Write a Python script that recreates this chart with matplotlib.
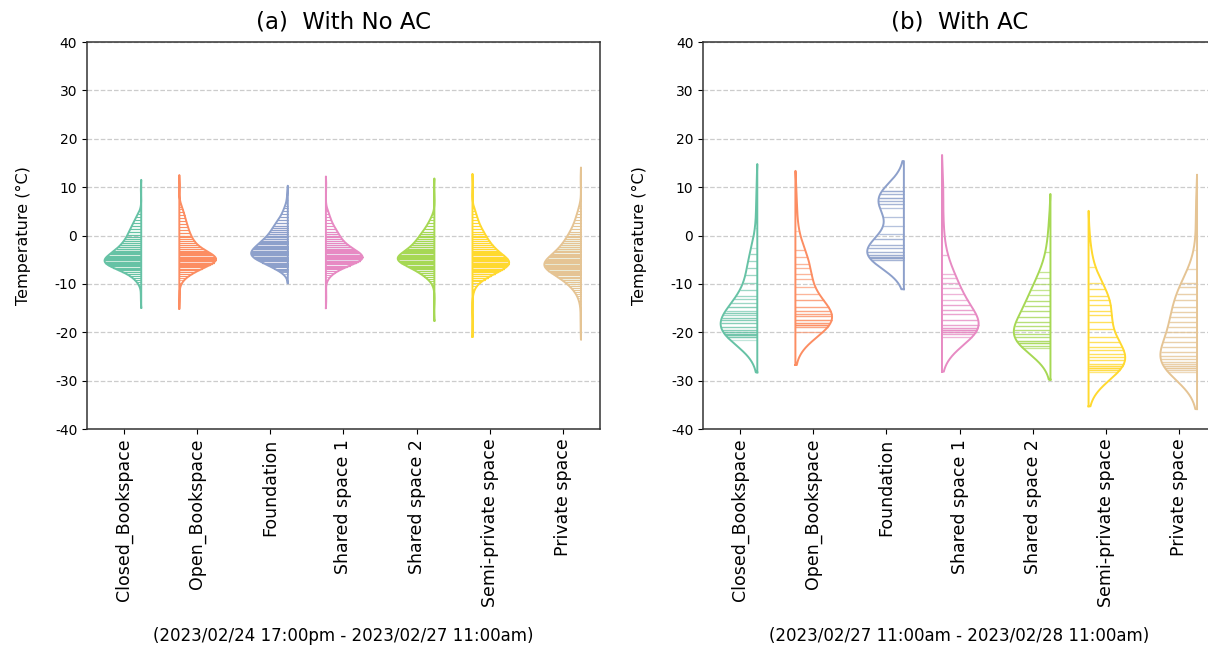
import numpy as np
import matplotlib
matplotlib.use("Agg")
import matplotlib.pyplot as plt
from matplotlib.collections import LineCollection

plt.rcParams["font.family"] = "DejaVu Sans"
plt.rcParams["axes.unicode_minus"] = False

categories = ["Closed_Bookspace", "Open_Bookspace", "Foundation", "Shared space 1",
              "Shared space 2", "Semi-private space", "Private space"]
palette = ["#66c2a5", "#fc8d62", "#8da0cb", "#e78ac3", "#a6d854", "#ffd92f", "#e5c494"]

# ---- (a) With No AC : logged temperature (degC) and number of readings at that value
noac_closed_t = [9.4, 4.4, 3.8, 3.2, 2.6, 2.0, 1.4, 0.8, 0.2, -0.3, -0.7, -1.1, -1.5, -1.9, -2.3,
                 -2.7, -3.1, -3.4, -3.65, -3.9, -4.15, -4.4, -4.65, -4.9, -5.15, -5.4, -5.65,
                 -5.9, -6.15, -6.4, -6.65, -6.9, -7.15, -7.5, -7.9, -8.3, -8.7, -9.1, -9.6,
                 -10.1, -12.8]
noac_closed_n = [1, 3, 3, 4, 5, 6, 7, 8, 8, 6, 7, 7, 8, 8, 9,
                 10, 11, 7, 8, 8, 9, 9, 10, 11, 11, 12, 12,
                 11, 10, 9, 7, 7, 6, 7, 5, 4, 3, 3, 2,
                 1, 1]

noac_open_t = [10.2, 6.0, 5.4, 4.8, 4.2, 3.6, 3.0, 2.4, 1.8, 1.2, 0.6, 0.0, -0.4, -0.8, -1.2,
               -1.6, -2.0, -2.4, -2.8, -3.1, -3.35, -3.6, -3.85, -4.1, -4.35, -4.6, -4.85,
               -5.1, -5.35, -5.6, -5.85, -6.1, -6.35, -6.6, -6.85, -7.2, -7.6, -8.0, -8.4,
               -8.8, -9.2, -9.8, -12.8]
noac_open_n = [1, 2, 2, 3, 3, 3, 4, 5, 5, 5, 6, 6, 5, 5, 5,
               6, 7, 7, 8, 6, 6, 7, 8, 9, 10, 11, 12,
               12, 11, 10, 8, 7, 7, 6, 5, 7, 6, 4, 3,
               2, 1, 1, 1]

noac_found_t = [8.3, 7.4, 6.2, 5.6, 5.0, 4.4, 3.8, 3.2, 2.6, 2.0, 1.6, 1.2, 0.8, 0.4, 0.0,
                -0.4, -0.8, -1.1, -1.35, -1.6, -1.85, -2.1, -2.35, -2.6, -2.85, -3.1, -3.35,
                -3.6, -3.85, -4.1, -4.35, -4.6, -4.85, -5.1, -5.35, -5.6, -5.85, -6.1, -6.35,
                -6.6, -6.85, -7.1, -7.35, -7.6, -7.85]
noac_found_n = [1, 1, 2, 3, 3, 4, 5, 7, 8, 9, 7, 7, 8, 8, 9,
                10, 11, 7, 8, 8, 9, 9, 9, 10, 10, 11, 11,
                12, 12, 12, 11, 11, 10, 9, 8, 7, 7, 6, 5,
                4, 4, 3, 2, 2, 1]

noac_shared1_t = [10.2, 5.0, 4.4, 3.8, 3.2, 2.6, 2.0, 1.4, 0.8, 0.4, 0.0, -0.4, -0.8, -1.2,
                  -1.6, -2.0, -2.4, -2.7, -2.95, -3.2, -3.45, -3.7, -3.95, -4.2, -4.45, -4.7,
                  -4.95, -5.2, -5.45, -5.7, -5.95, -6.2, -6.45, -6.7, -7.0, -7.4, -7.8, -8.2,
                  -8.6, -9.1, -13.0]
noac_shared1_n = [1, 2, 2, 3, 3, 4, 5, 6, 7, 5, 6, 6, 7, 7,
                  8, 9, 10, 7, 8, 8, 9, 9, 10, 11, 12, 12,
                  12, 11, 10, 8, 7, 6, 5, 4, 6, 4, 3, 2,
                  1, 1, 1]

noac_shared2_t = [9.8, 4.4, 3.8, 3.2, 2.6, 2.0, 1.4, 0.8, 0.4, 0.0, -0.4, -0.8, -1.2, -1.6,
                  -2.0, -2.4, -2.7, -2.95, -3.2, -3.45, -3.7, -3.95, -4.2, -4.45, -4.7, -4.95,
                  -5.2, -5.45, -5.7, -5.95, -6.2, -6.45, -6.7, -6.95, -7.3, -7.7, -8.1, -8.5,
                  -8.9, -9.3, -9.8, -10.3, -15.6]
noac_shared2_n = [1, 1, 2, 3, 4, 5, 6, 7, 6, 6, 7, 8, 8, 9,
                  10, 10, 7, 7, 8, 9, 9, 10, 11, 11, 12, 12,
                  12, 11, 10, 9, 8, 7, 6, 6, 8, 7, 5, 4,
                  3, 2, 1, 1, 1]

noac_semi_t = [10.5, 5.6, 5.0, 4.4, 3.8, 3.2, 2.6, 2.0, 1.4, 0.8, 0.4, 0.0, -0.4, -0.8, -1.2,
               -1.6, -2.0, -2.4, -2.8, -3.1, -3.35, -3.6, -3.85, -4.1, -4.35, -4.6, -4.85,
               -5.1, -5.35, -5.6, -5.85, -6.1, -6.35, -6.6, -6.85, -7.1, -7.35, -7.6, -7.9,
               -8.3, -8.7, -9.1, -9.5, -9.9, -10.4, -11.0, -11.7, -18.7]
noac_semi_n = [1, 1, 2, 3, 3, 4, 4, 5, 6, 7, 5, 6, 6, 7, 7,
               8, 9, 9, 10, 7, 7, 7, 8, 8, 9, 10, 10,
               11, 12, 12, 12, 12, 11, 10, 9, 8, 7, 7, 10,
               8, 6, 5, 3, 2, 2, 1, 1, 1]

noac_private_t = [11.6, 6.2, 5.6, 5.0, 4.4, 3.8, 3.2, 2.6, 2.0, 1.4, 0.8, 0.4, 0.0, -0.4, -0.8,
                  -1.2, -1.6, -2.0, -2.4, -2.8, -3.2, -3.5, -3.75, -4.0, -4.25, -4.5, -4.75,
                  -5.0, -5.25, -5.5, -5.75, -6.0, -6.25, -6.5, -6.75, -7.0, -7.25, -7.5, -7.75,
                  -8.0, -8.25, -8.5, -8.8, -9.2, -9.6, -10.0, -10.4, -10.8, -11.2, -11.6, -12.0,
                  -12.5, -13.0, -13.6, -14.2, -16.5, -19.0]
noac_private_n = [1, 1, 2, 2, 3, 3, 4, 5, 5, 6, 7, 5, 6, 6, 7,
                  8, 8, 9, 9, 10, 11, 7, 8, 8, 9, 9, 10,
                  10, 11, 11, 11, 12, 12, 12, 12, 11, 10, 9, 8,
                  8, 7, 6, 9, 8, 7, 6, 5, 4, 3, 3, 2,
                  2, 1, 1, 1, 1, 1]

# ---- (b) With AC
ac_closed_t = [8.0, 1.5, -2.5, -3.9, -5.2, -6.8, -8.2, -9.8, -11.3, -12.5, -13.2, -14.0, -14.8,
               -15.5, -16.0, -16.5, -17.0, -17.5, -18.1, -18.9, -19.5, -19.9, -20.3, -20.6,
               -20.9, -21.5]
ac_closed_n = [1, 1, 1, 2, 2, 2, 2, 2, 2, 2, 2, 2, 3,
               2, 3, 2, 3, 3, 3, 3, 3, 4, 4, 5,
               4, 1]

ac_open_t = [6.5, 1.0, -3.0, -4.4, -5.8, -6.8, -7.9, -8.9, -10.6, -12.0, -13.4, -14.8, -15.6,
             -16.2, -16.7, -17.5, -18.1, -18.5, -18.9, -19.9]
ac_open_n = [1, 1, 2, 2, 2, 2, 2, 2, 2, 2, 3, 3, 3,
             3, 3, 4, 4, 6, 3, 2]

ac_found_t = [9.3, 8.6, 7.8, 7.2, 6.6, 5.6, 3.9, 2.0, 0.4, -0.8, -1.9, -2.6, -3.3, -4.0,
              -4.4, -4.7, -5.0]
ac_found_n = [4, 3, 4, 3, 3, 2, 2, 2, 2, 3, 3, 3, 3, 4,
              4, 6, 3]

ac_shared1_t = [9.5, 2.0, -4.0, -7.9, -8.8, -9.8, -10.8, -12.0, -13.4, -14.3, -15.3, -16.3,
                -17.5, -18.5, -19.2, -19.6, -20.0, -20.4, -21.0]
ac_shared1_n = [1, 1, 2, 2, 2, 2, 2, 2, 2, 3, 3, 3,
                3, 3, 4, 6, 5, 3, 2]

ac_shared2_t = [2.0, -3.5, -7.5, -8.8, -10.0, -11.3, -12.3, -13.5, -14.6, -15.5, -16.8, -17.9,
                -18.6, -19.6, -20.3, -21.0, -21.7, -22.3, -22.8, -23.2]
ac_shared2_n = [1, 2, 2, 2, 2, 2, 2, 3, 3, 3, 3, 3,
                3, 3, 3, 3, 4, 5, 3, 2]

ac_semi_t = [-2.0, -6.5, -9.9, -11.0, -12.4, -13.4, -14.4, -15.5, -16.5, -17.9, -19.3, -21.0,
             -22.0, -23.1, -23.7, -24.4, -25.1, -25.8, -26.5, -27.0, -27.4, -27.8, -28.2]
ac_semi_n = [1, 2, 2, 3, 3, 3, 3, 3, 3, 3, 3, 3,
             3, 3, 3, 3, 3, 3, 3, 4, 6, 4, 2]

ac_private_t = [5.0, -3.0, -7.0, -9.9, -10.6, -12.0, -13.4, -14.8, -15.8, -16.8, -17.9, -18.9,
                -19.9, -21.0, -22.0, -23.1, -24.1, -24.8, -25.5, -26.1, -26.6, -27.0, -27.4,
                -27.8, -28.3]
ac_private_n = [1, 1, 2, 3, 3, 3, 3, 3, 3, 3, 3, 3,
                3, 3, 3, 3, 3, 3, 3, 3, 3, 4, 5,
                3, 2]

noac = [(noac_closed_t, noac_closed_n), (noac_open_t, noac_open_n), (noac_found_t, noac_found_n),
        (noac_shared1_t, noac_shared1_n), (noac_shared2_t, noac_shared2_n),
        (noac_semi_t, noac_semi_n), (noac_private_t, noac_private_n)]
ac = [(ac_closed_t, ac_closed_n), (ac_open_t, ac_open_n), (ac_found_t, ac_found_n),
      (ac_shared1_t, ac_shared1_n), (ac_shared2_t, ac_shared2_n),
      (ac_semi_t, ac_semi_n), (ac_private_t, ac_private_n)]


def half_violin(ax, pos, side, temps, counts, color, bw_adjust=1.0,
                stick_lw=1.0, stick_alpha=0.5, half_width=0.5, cut=2):
    """One half violin with stick inner; side=+1 draws to the left of pos."""
    temps = np.asarray(temps, float)
    obs = np.repeat(temps, counts)
    bw = obs.std(ddof=1) * len(obs) ** (-1 / 5) * bw_adjust  # scott

    def dens(y):
        y = np.atleast_1d(y)
        return np.exp(-0.5 * ((y[:, None] - obs[None, :]) / bw) ** 2).sum(axis=1)

    grid = np.linspace(obs.min() - cut * bw, obs.max() + cut * bw, 500)
    d = dens(grid)
    scale = half_width / d.max()
    xs = pos - side * d * scale
    ax.plot(np.r_[pos, xs, pos, pos], np.r_[grid[0], grid, grid[-1], grid[0]],
            color=color, lw=1.4, solid_joinstyle="round", zorder=3)
    w = dens(obs) * scale
    segs = [[(pos, y), (pos - side * wi, y)] for y, wi in zip(obs, w)]
    ax.add_collection(LineCollection(segs, colors=color, linewidths=stick_lw,
                                     alpha=stick_alpha, zorder=2))


fig = plt.figure(figsize=(12.08, 6.47), dpi=100)
panels = [
    (0.0720, "(a)  With No AC", noac, "(2023/02/24 17:00pm - 2023/02/27 11:00am)",
     dict(bw_adjust=1.0, stick_lw=0.75, stick_alpha=0.7)),
    (0.5820, "(b)  With AC", ac, "(2023/02/27 11:00am - 2023/02/28 11:00am)",
     dict(bw_adjust=1.25, stick_lw=0.9, stick_alpha=0.4)),
]

for left, title, data, period, style in panels:
    ax = fig.add_axes([left, 0.3369, 0.4247, 0.5981])
    for i, (temps, counts) in enumerate(data):
        side = 1 if i % 2 == 0 else -1
        half_violin(ax, i + 0.24 * side, side, temps, counts, palette[i], **style)
    ax.set_xlim(-0.5, 6.5)
    ax.set_ylim(-40, 40)
    ax.set_yticks(np.arange(-40, 41, 10))
    ax.set_xticks(range(len(categories)))
    ax.set_xticklabels(categories, rotation=90, fontsize=12.5)
    ax.tick_params(axis="y", labelsize=10)
    ax.yaxis.grid(True, linestyle="--", color="#cccccc", lw=0.9)
    ax.set_axisbelow(True)
    for sp in ax.spines.values():
        sp.set_color("#333333")
        sp.set_linewidth(1.1)
    ax.set_ylabel("Temperature (°C)", fontsize=11.5, labelpad=17)
    ax.set_title(title, fontsize=16.5, pad=10)
    fig.text(left + 0.4247 / 2, 0.017, period, ha="center", va="center", fontsize=12)

fig.savefig("out.png", dpi=100)
